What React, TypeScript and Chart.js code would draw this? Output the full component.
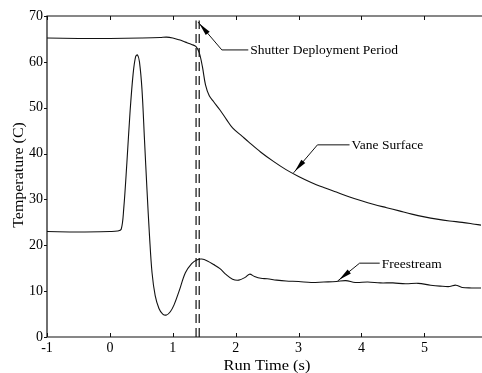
import React, { useEffect, useRef } from "react";
import { Chart, registerables } from "chart.js";

Chart.register(...registerables);

// ---- Data ----
const vaneTime = [-1, -0.5, 0, 0.5, 0.8, 0.9, 1.0, 1.1, 1.2, 1.3, 1.37, 1.42, 1.47, 1.52, 1.58, 1.65, 1.75, 1.86, 1.95, 2.1, 2.2, 2.4, 2.6, 2.8, 3.0, 3.2, 3.4, 3.6, 3.8, 4.0, 4.2, 4.4, 4.6, 4.8, 5.0, 5.2, 5.4, 5.6, 5.8, 5.9];
const vaneTemp = [65.2, 65.1, 65.1, 65.2, 65.3, 65.4, 65.2, 64.8, 64.3, 63.8, 63.3, 62.0, 59.0, 55.0, 52.6, 51.3, 49.5, 47.3, 45.6, 43.8, 42.6, 40.3, 38.3, 36.5, 35.0, 33.7, 32.6, 31.6, 30.6, 29.7, 28.9, 28.2, 27.5, 26.8, 26.2, 25.7, 25.3, 25.0, 24.6, 24.4];

const freeTime = [-1, -0.5, 0, 0.12, 0.18, 0.22, 0.27, 0.32, 0.37, 0.41, 0.44, 0.47, 0.51, 0.55, 0.59, 0.63, 0.67, 0.72, 0.78, 0.84, 0.9, 0.96, 1.02, 1.1, 1.2, 1.3, 1.38, 1.46, 1.55, 1.65, 1.75, 1.85, 1.95, 2.05, 2.15, 2.22, 2.3, 2.4, 2.5, 2.65, 2.8, 3.0, 3.2, 3.4, 3.6, 3.75, 3.9, 4.1, 4.3, 4.5, 4.7, 4.9, 5.1, 5.25, 5.4, 5.5, 5.6, 5.75, 5.9];
const freeTemp = [23.0, 22.9, 23.0, 23.1, 23.5, 28, 38, 49, 57.5, 61.2, 61.5, 60, 54, 43, 32, 22, 14, 9, 6.2, 5.0, 4.8, 5.5, 7.0, 10.0, 14.0, 16.0, 16.8, 17.0, 16.6, 15.8, 14.9, 13.6, 12.6, 12.4, 13.0, 13.7, 13.2, 12.8, 12.7, 12.4, 12.2, 12.1, 11.9, 12.0, 12.1, 12.3, 11.9, 12.0, 11.8, 11.8, 11.6, 11.7, 11.3, 11.1, 11.0, 11.3, 10.8, 10.7, 10.7];

const shutterTimes = [1.37, 1.42];
const shutterTemps = [0, 69];

const xTickValues = [-1, 0, 1, 2, 3, 4, 5];
const yTickValues = [0, 10, 20, 30, 40, 50, 60, 70];

const xTitle = "Run Time (s)";
const yTitle = "Temperature (C)";
const labelTexts = ["Shutter Deployment Period", "Vane Surface", "Freestream"];
// [tipX, tipY, elbowX, elbowY, endX] in data units
const labelAnchors = [
  [1.40, 68.7, 1.78, 62.6, 2.2],
  [2.92, 35.8, 3.30, 41.9, 3.81],
  [3.62, 12.2, 3.97, 16.1, 4.29],
];

const SERIF = "'Liberation Serif', 'Times New Roman', serif";

const framePlugin = {
  id: "frameAndNotes",
  afterDatasetsDraw(chart: any) {
    const { ctx, chartArea: a, scales } = chart;
    const xs = scales.x;
    const ys = scales.y;
    ctx.save();
    ctx.strokeStyle = "#111";
    ctx.lineWidth = 1.2;
    ctx.beginPath();
    ctx.moveTo(a.right + 2, a.top);
    ctx.lineTo(a.left, a.top);
    ctx.lineTo(a.left, a.bottom);
    ctx.lineTo(a.right + 2, a.bottom);
    ctx.stroke();
    ctx.lineWidth = 1;
    xTickValues.forEach((v) => {
      const px = Math.round(xs.getPixelForValue(v)) + 0.5;
      ctx.beginPath();
      ctx.moveTo(px, a.bottom);
      ctx.lineTo(px, a.bottom - 4);
      ctx.moveTo(px, a.top);
      ctx.lineTo(px, a.top + 4);
      ctx.stroke();
    });
    yTickValues.forEach((v) => {
      const py = Math.round(ys.getPixelForValue(v)) + 0.5;
      ctx.beginPath();
      ctx.moveTo(a.left - 3, py);
      ctx.lineTo(a.left, py);
      ctx.stroke();
    });
    // annotations
    ctx.font = "13.5px " + SERIF;
    ctx.fillStyle = "#000";
    ctx.textBaseline = "middle";
    ctx.textAlign = "left";
    labelAnchors.forEach((an, i) => {
      const tx = xs.getPixelForValue(an[0]);
      const ty = ys.getPixelForValue(an[1]);
      const ex = xs.getPixelForValue(an[2]);
      const ey = ys.getPixelForValue(an[3]);
      const nx = xs.getPixelForValue(an[4]);
      ctx.lineWidth = 1;
      ctx.beginPath();
      ctx.moveTo(tx, ty);
      ctx.lineTo(ex, ey);
      ctx.lineTo(nx, ey);
      ctx.stroke();
      const dx = ex - tx;
      const dy = ey - ty;
      const len = Math.hypot(dx, dy);
      const ux = dx / len;
      const uy = dy / len;
      const hl = 15;
      const hw = 2.6;
      const bx = tx + ux * hl;
      const by = ty + uy * hl;
      ctx.beginPath();
      ctx.moveTo(tx + ux * 2, ty + uy * 2);
      ctx.lineTo(bx - uy * hw, by + ux * hw);
      ctx.lineTo(bx + uy * hw, by - ux * hw);
      ctx.closePath();
      ctx.fill();
      ctx.fillText(labelTexts[i], nx + 2, ey + 1);
    });
    // axis titles
    ctx.font = "14px " + SERIF;
    ctx.textAlign = "center";
    ctx.save();
    ctx.translate(267, 366);
    ctx.scale(1.17, 1);
    ctx.fillText(xTitle, 0, 0);
    ctx.restore();
    ctx.save();
    ctx.translate(19, 175);
    ctx.rotate(-Math.PI / 2);
    ctx.scale(1.14, 1);
    ctx.fillText(yTitle, 0, 0);
    ctx.restore();
    ctx.restore();
  },
};

export default function App() {
  const ref = useRef<HTMLCanvasElement | null>(null);
  useEffect(() => {
    if (!ref.current) return;
    const line = { borderColor: "#111", borderWidth: 1.1, pointRadius: 0, showLine: true, tension: 0.35, fill: false };
    const chart = new Chart(ref.current, {
      type: "scatter",
      data: {
        datasets: [
          { ...line, label: "Vane Surface", data: vaneTime.map((x, i) => ({ x, y: vaneTemp[i] })) },
          { ...line, label: "Freestream", data: freeTime.map((x, i) => ({ x, y: freeTemp[i] })) },
          { ...line, tension: 0, borderWidth: 1.2, borderDash: [9, 5], label: "Shutter A", data: shutterTemps.map((y) => ({ x: shutterTimes[0], y })) },
          { ...line, tension: 0, borderWidth: 1.2, borderDash: [9, 5], label: "Shutter B", data: shutterTemps.map((y) => ({ x: shutterTimes[1], y })) },
        ],
      },
      options: {
        responsive: false,
        animation: false,
        devicePixelRatio: 1,
        layout: { padding: { top: 16, right: 1, left: 0, bottom: 0 } },
        plugins: { legend: { display: false }, tooltip: { enabled: false } },
        scales: {
          x: {
            type: "linear",
            min: -1,
            max: 5.9,
            grid: { display: false, drawTicks: false },
            border: { display: false },
            afterBuildTicks: (s: any) => {
              s.ticks = xTickValues.map((value) => ({ value }));
            },
            afterFit: (s: any) => {
              s.height = 36;
            },
            ticks: { color: "#000", font: { family: SERIF, size: 14 }, padding: 3, maxRotation: 0, autoSkip: false, callback: (v: any) => String(v) },
          },
          y: {
            type: "linear",
            min: 0,
            max: 70,
            grid: { display: false, drawTicks: false },
            border: { display: false },
            afterBuildTicks: (s: any) => {
              s.ticks = yTickValues.map((value) => ({ value }));
            },
            afterFit: (s: any) => {
              s.width = 47;
            },
            ticks: { color: "#000", font: { family: SERIF, size: 14 }, padding: 4, autoSkip: false, callback: (v: any) => String(v) },
          },
        },
      },
      plugins: [framePlugin],
    } as any);
    return () => chart.destroy();
  }, []);
  return (
    <canvas
      ref={ref}
      width={482}
      height={373}
      style={{ position: "absolute", left: 0, top: 0, width: 482, height: 373, background: "#fff" }}
    />
  );
}
